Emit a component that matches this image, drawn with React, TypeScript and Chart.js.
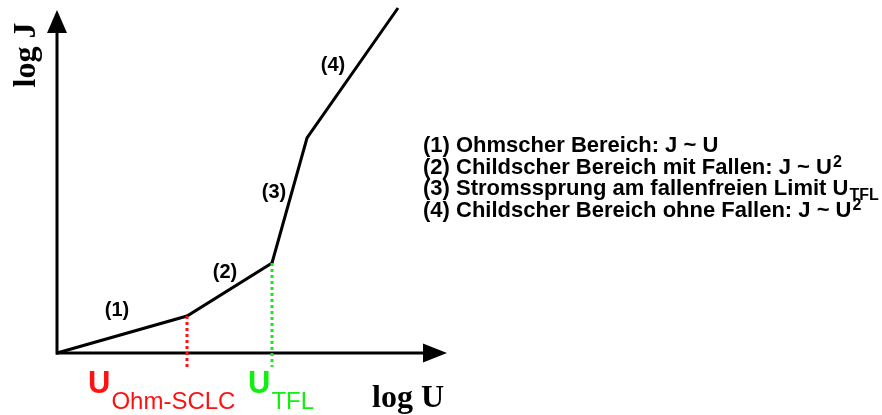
import React, { useEffect, useRef } from "react";
import { Chart, registerables } from "chart.js";

Chart.register(...registerables);

// schematic values in (log U, log J) units
const curveLogU = [0, 1.3, 2.15, 2.5, 3.41];
const curveLogJ = [0, 0.37, 0.9, 2.15, 3.45];
const xAxisEnd = 3.9;
const yAxisEnd = 3.43;
const uOhm = 1.3;
const uTfl = 2.15;
const dropBottom = -0.14;

const regionLabels = ["(1)", "(2)", "(3)", "(4)"];
const regionLabelU = [0.6, 1.68, 2.17, 2.76];
const regionLabelJ = [0.43, 0.81, 1.61, 2.88];

const legendLines: { main: string; sup?: string; sub?: string }[] = [
  { main: "(1) Ohmscher Bereich: J ~ U" },
  { main: "(2) Childscher Bereich mit Fallen: J ~ U", sup: "2" },
  { main: "(3) Stromssprung am fallenfreien Limit U", sub: "TFL" },
  { main: "(4) Childscher Bereich ohne Fallen: J ~ U", sup: "2" },
];

const SANS = '"Liberation Sans", Arial, sans-serif';
const SERIF = '"Liberation Serif", "Times New Roman", serif';

const RED = "#ff1111";
const GREEN = "#11ee11";

const overlay = {
  id: "overlay",
  afterDatasetsDraw(chart: any) {
    const { ctx, scales } = chart;
    const xs = scales.x;
    const ys = scales.y;
    const px = (v: number) => xs.getPixelForValue(v);
    const py = (v: number) => ys.getPixelForValue(v);
    ctx.save();
    ctx.fillStyle = "#000";
    // arrowheads
    const ox = px(0);
    const oy = py(0);
    const xt = px(xAxisEnd);
    ctx.beginPath();
    ctx.moveTo(xt, oy);
    ctx.lineTo(xt - 24, oy - 9.5);
    ctx.lineTo(xt - 24, oy + 9.5);
    ctx.closePath();
    ctx.fill();
    const yt = py(yAxisEnd);
    ctx.beginPath();
    ctx.moveTo(ox, yt);
    ctx.lineTo(ox - 10, yt + 23);
    ctx.lineTo(ox + 10, yt + 23);
    ctx.closePath();
    ctx.fill();

    // region labels
    ctx.font = `bold 20px ${SANS}`;
    ctx.textAlign = "center";
    ctx.textBaseline = "middle";
    regionLabels.forEach((t, i) => {
      ctx.fillText(t, px(regionLabelU[i]), py(regionLabelJ[i]));
    });

    // axis titles
    ctx.textAlign = "left";
    ctx.textBaseline = "alphabetic";
    ctx.font = `bold 32px ${SERIF}`;
    ctx.fillText("log U", xt - 75, oy + 54);
    ctx.save();
    ctx.translate(ox - 22, yt + 45);
    ctx.rotate(-Math.PI / 2);
    ctx.textAlign = "center";
    ctx.fillText("log J", 0, 0);
    ctx.restore();

    // U labels
    const drawU = (x: number, sub: string, color: string) => {
      ctx.fillStyle = color;
      ctx.font = `bold 31px ${SANS}`;
      const base = oy + 40;
      ctx.fillText("U", x, base);
      const w = ctx.measureText("U").width;
      ctx.font = `24px ${SANS}`;
      ctx.fillText(sub, x + w + 1, base + 16);
    };
    drawU(px(uOhm) - 99, "Ohm-SCLC", RED);
    drawU(px(uTfl) - 24, "TFL", GREEN);

    // legend
    ctx.fillStyle = "#000";
    const lx = 423;
    legendLines.forEach((l, i) => {
      const by = 152 + i * 21.7;
      ctx.font = `bold 22px ${SANS}`;
      ctx.fillText(l.main, lx, by);
      const w = ctx.measureText(l.main).width;
      if (l.sup) {
        ctx.font = `bold 16px ${SANS}`;
        ctx.fillText(l.sup, lx + w + 1, by - 7);
      }
      if (l.sub) {
        ctx.font = `bold 16px ${SANS}`;
        ctx.fillText(l.sub, lx + w + 1, by + 5);
      }
    });
    ctx.restore();
  },
};

export default function App() {
  const ref = useRef<HTMLCanvasElement>(null);
  useEffect(() => {
    document.body.style.margin = "0";
    const pts = curveLogU.map((u, i) => ({ x: u, y: curveLogJ[i] }));
    const line = (data: any[], color: string, dash: number[] = []) => ({
      data,
      showLine: true,
      borderColor: color,
      borderWidth: 3,
      borderDash: dash,
      pointRadius: 0,
      fill: false,
      borderCapStyle: "butt",
      borderJoinStyle: "miter",
    });
    const chart = new Chart(ref.current!, {
      type: "scatter",
      data: {
        datasets: [
          line([{ x: uOhm, y: curveLogJ[1] }, { x: uOhm, y: dropBottom }], RED, [3, 3]),
          line([{ x: uTfl, y: curveLogJ[2] }, { x: uTfl, y: dropBottom }], GREEN, [3, 3]),
          line([{ x: -0.01, y: 0 }, { x: xAxisEnd - 0.2, y: 0 }], "#000"),
          line([{ x: 0, y: -0.015 }, { x: 0, y: yAxisEnd - 0.2 }], "#000"),
          line(pts, "#000"),
        ] as any,
      },
      options: {
        animation: false,
        responsive: true,
        maintainAspectRatio: false,
        layout: { padding: 0 },
        plugins: { legend: { display: false }, tooltip: { enabled: false } },
        scales: {
          x: { type: "linear", min: -0.57, max: 8.25, display: false },
          y: { type: "linear", min: -0.62, max: 3.53, display: false },
        },
      },
      plugins: [overlay],
    });
    return () => chart.destroy();
  }, []);
  return (
    <div style={{ position: "absolute", left: 0, top: 0, width: 882, height: 415, background: "#fff" }}>
      <canvas ref={ref} />
    </div>
  );
}
